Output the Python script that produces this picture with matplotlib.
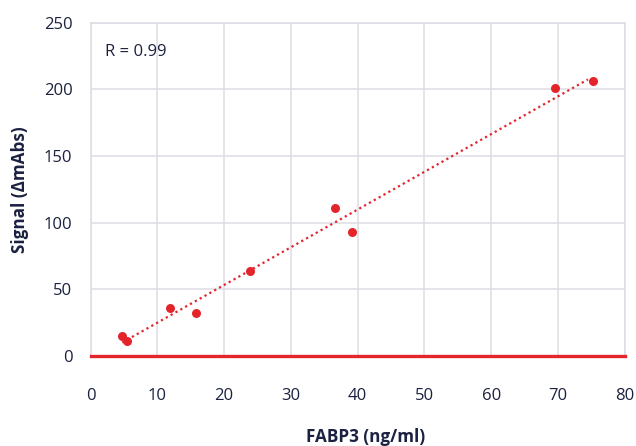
import numpy as np
import matplotlib
matplotlib.use("Agg")
import matplotlib.pyplot as plt

conc = [4.76, 5.42, 11.9, 15.84, 23.9, 36.65, 39.1, 69.5, 75.3]
signal = [14.6, 11.3, 35.8, 31.8, 63.6, 110.9, 92.6, 200.7, 206.2]
x_ticks = [0, 10, 20, 30, 40, 50, 60, 70, 80]
y_ticks = [0, 50, 100, 150, 200, 250]
r_label = "R = 0.99"

RED = "#e3242b"
NAVY = "#1b2140"
GRID = "#dedde6"

plt.rcParams['font.family'] = ['Open Sans', 'DejaVu Sans']

fig = plt.figure(figsize=(6.36, 4.46), dpi=100)
ax = fig.add_axes([0.1423, 0.2025, 0.9822 - 0.1423, 0.949 - 0.2025])

ax.set_xlim(0, 80)
ax.set_ylim(0, 250)
ax.set_xticks(x_ticks)
ax.set_yticks(y_ticks)
ax.grid(True, color=GRID, linewidth=1.1, zorder=0)
for s in ax.spines.values():
    s.set_color(GRID)
    s.set_linewidth(1.1)
ax.spines['bottom'].set_visible(False)
ax.axhline(0, color=RED, linewidth=2.4, zorder=3, clip_on=False)

x = np.array(conc)
y = np.array(signal)
m, b = np.polyfit(x, y, 1)
xs = np.array([x.min(), x.max() - 0.8])
ax.plot(xs, m * xs + b, color=RED, linewidth=1.6, linestyle=(0, (1, 1.5)), zorder=4)
ax.scatter(x, y, s=42, color=RED, zorder=5, linewidths=0)

ax.tick_params(axis='both', length=0, colors=NAVY, labelsize=12)
ax.tick_params(axis='x', pad=23)
ax.tick_params(axis='y', pad=13)

ax.text(0.027, 0.912, r_label, transform=ax.transAxes, fontsize=12, color=NAVY, va='center', ha='left')

fig.text(366 / 636, 1 - 437 / 446, "FABP3 (ng/ml)", ha='center', va='center', fontsize=12.3,
         fontweight='bold', color=NAVY)
fig.text(20 / 636, 1 - 190 / 446, "Signal (\u0394mAbs)", ha='center', va='center', rotation=90,
         fontsize=12.3, fontweight='bold', color=NAVY)

fig.savefig("out.png", dpi=100)
